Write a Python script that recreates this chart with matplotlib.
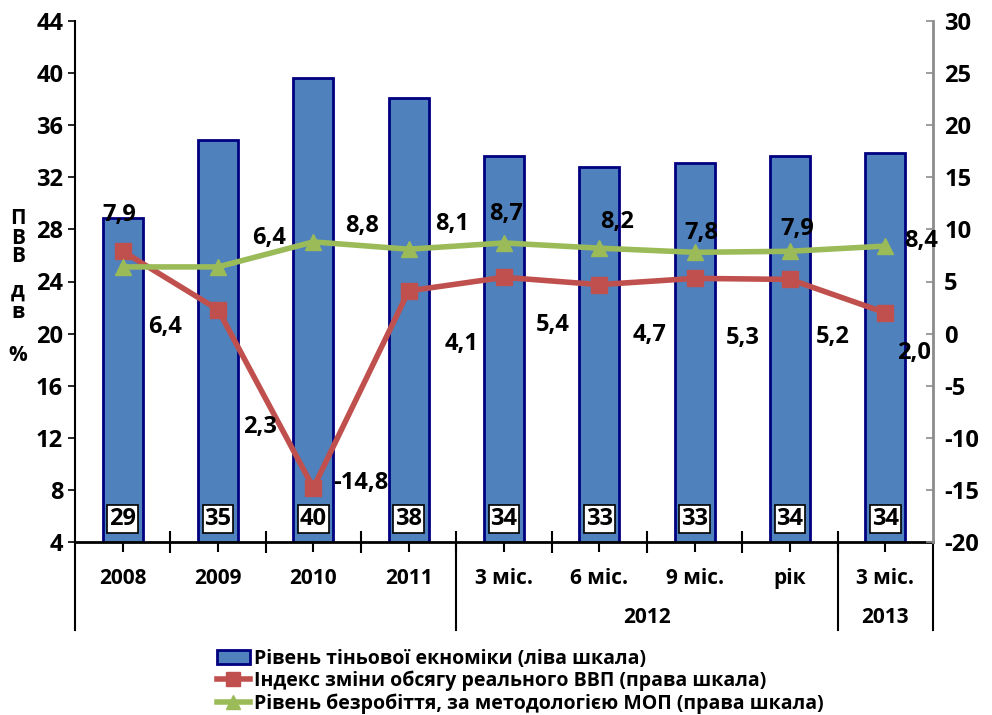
import matplotlib
matplotlib.use("Agg")
import matplotlib.pyplot as plt
from matplotlib.lines import Line2D
from matplotlib.patches import Patch

plt.rcParams['font.family'] = ['Open Sans', 'DejaVu Sans']
plt.rcParams['font.weight'] = 'bold'
plt.rcParams['axes.unicode_minus'] = False

# Data
categories = ['2008', '2009', '2010', '2011', '3 міс.', '6 міс.', '9 міс.', 'рік', '3 міс.']
shadow = [28.9, 34.9, 39.6, 38.1, 33.6, 32.8, 33.1, 33.6, 33.9]
shadow_labels = ['29', '35', '40', '38', '34', '33', '33', '34', '34']
gdp = [7.9, 2.3, -14.8, 4.1, 5.4, 4.7, 5.3, 5.2, 2.0]
gdp_labels = ['6,4', '2,3', '-14,8', '4,1', '5,4', '4,7', '5,3', '5,2', '2,0']
unemp = [6.4, 6.4, 8.8, 8.1, 8.7, 8.2, 7.8, 7.9, 8.4]
unemp_labels = ['7,9', '6,4', '8,8', '8,1', '8,7', '8,2', '7,8', '7,9', '8,4']

# label offsets (x in categories, y in right-axis units), as placed in the original
gdp_off = [(0.44, -7.3), (0.44, -11.3), (0.5, 0.5), (0.56, -5.1), (0.51, -4.6),
           (0.53, -4.8), (0.5, -5.7), (0.45, -5.5), (0.3, -3.9)]
unemp_off = [(-0.03, 5.0), (0.54, 2.8), (0.51, 1.5), (0.46, 2.4), (0.02, 2.8),
             (0.19, 2.5), (0.07, 1.9), (0.08, 2.1), (0.38, 0.5)]

x = list(range(len(categories)))

fig = plt.figure(figsize=(9.92, 7.15), dpi=100)
ax = fig.add_axes([75 / 992, 1 - 542 / 715, 858 / 992, 521 / 715])
ax2 = ax.twinx()

ax.bar(x, shadow, width=0.42, bottom=0, color='#4F81BD', edgecolor='#000080', linewidth=2, zorder=2)
ax.set_ylim(4, 44)
ax.set_yticks(range(4, 45, 4))
ax.set_xlim(-0.5, len(categories) - 0.5)

for i, lab in enumerate(shadow_labels):
    ax.annotate(lab, (i, 4), xytext=(0, 8), textcoords='offset points', ha='center', va='bottom',
                fontsize=17, fontweight='bold', zorder=5,
                bbox=dict(boxstyle='square,pad=0.08', fc='white', ec='black', lw=1.2))

ax2.plot(x, gdp, color='#C0504D', lw=4, marker='s', markersize=12, zorder=4)
ax2.plot(x, unemp, color='#9BBB59', lw=4, marker='^', markersize=12, zorder=4)
ax2.set_ylim(-20, 30)
ax2.set_yticks(range(-20, 31, 5))

for i, lab in enumerate(gdp_labels):
    dx, dy = gdp_off[i]
    ax2.text(i + dx, gdp[i] + dy, lab, ha='center', va='center', fontsize=17, fontweight='bold', zorder=6)
for i, lab in enumerate(unemp_labels):
    dx, dy = unemp_off[i]
    ax2.text(i + dx, unemp[i] + dy, lab, ha='center', va='center', fontsize=17, fontweight='bold', zorder=6)

# axes styling
ax.spines['top'].set_visible(False)
ax2.spines['top'].set_visible(False)
ax.spines['right'].set_visible(False)
ax2.spines['left'].set_visible(False)
ax2.spines['bottom'].set_visible(False)
ax.spines['left'].set_linewidth(1.5)
ax.spines['bottom'].set_linewidth(2)
ax2.spines['right'].set_color('#8C8C8C')
ax2.spines['right'].set_linewidth(2)
ax.tick_params(axis='y', labelsize=17, length=5, width=1.2)
ax2.tick_params(axis='y', labelsize=17, length=5, width=1.2, color='#8C8C8C', direction='in', pad=8)

ax.set_xticks(x)
ax.set_xticklabels(categories, fontsize=15, fontweight='bold')
ax.tick_params(axis='x', length=7, width=1.5, pad=12)
ax.set_xticks([i - 0.5 for i in range(1, len(categories))], minor=True)
ax.tick_params(axis='x', which='minor', direction='inout', length=16, width=1.5)
for t in ax.get_yticklabels() + ax2.get_yticklabels():
    t.set_fontweight('bold')

# group separators and group labels
trans = ax.get_xaxis_transform()
for sx in [-0.5, 3.5, 7.5, 8.5]:
    ax.plot([sx, sx], [0, -0.168], transform=trans, color='black', lw=1.5, clip_on=False)
ax.text(5.5, -0.145, '2012', transform=trans, ha='center', va='center', fontsize=15, fontweight='bold')
ax.text(8.0, -0.145, '2013', transform=trans, ha='center', va='center', fontsize=15, fontweight='bold')

# stacked left label
for ch, py in zip(['П', 'В', 'В', 'д', 'в', '%'], [218, 238, 257, 291, 313, 356]):
    fig.text(18 / 992, 1 - py / 715, ch, ha='center', va='center', fontsize=15, fontweight='bold')

handles = [
    Patch(facecolor='#4F81BD', edgecolor='#000080', linewidth=2),
    Line2D([], [], color='#C0504D', lw=4, marker='s', markersize=10),
    Line2D([], [], color='#9BBB59', lw=4, marker='^', markersize=10),
]
labels = ['Рівень тіньової екноміки (ліва шкала)',
          'Індекс зміни обсягу реального ВВП (права шкала)',
          'Рівень безробіття, за методологією МОП (права шкала)']
fig.legend(handles, labels, loc='upper left', bbox_to_anchor=(207 / 992, 1 - 639 / 715), frameon=False,
           prop={'size': 14, 'weight': 'bold'}, handlelength=1.7, handletextpad=0.2, labelspacing=0.1,
           borderpad=0)

fig.savefig('out.png', dpi=100, facecolor='white')
